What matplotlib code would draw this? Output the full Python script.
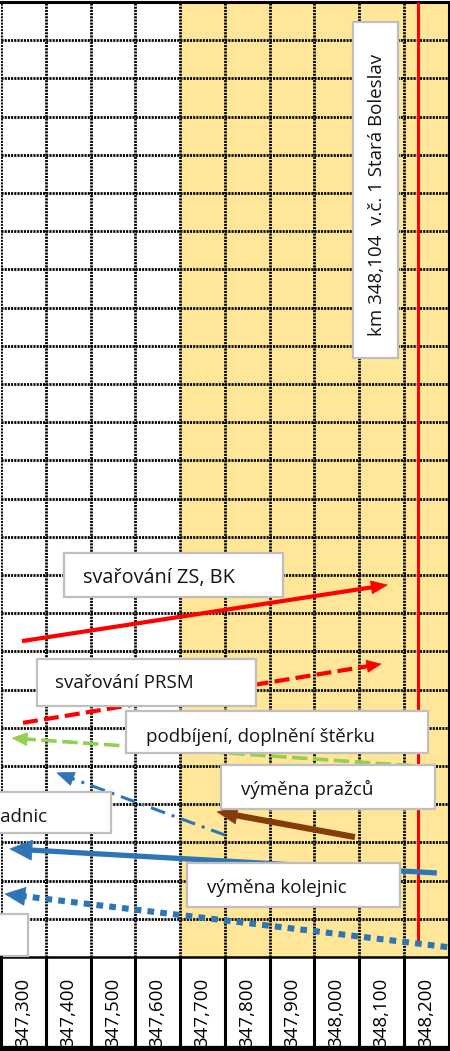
import matplotlib
matplotlib.use('Agg')
import matplotlib.pyplot as plt
from matplotlib.patches import Rectangle, Polygon
from matplotlib.lines import Line2D
import matplotlib.transforms as mtransforms
import numpy as np

plt.rcParams['font.family'] = ['Open Sans', 'DejaVu Sans']

# ---------------- data ----------------
km_labels = ['347,300', '347,400', '347,500', '347,600', '347,700',
             '347,800', '347,900', '348,000', '348,100', '348,200']
col_start = 347.25          # left edge of first column (km)
col_width = 0.1             # km per column
n_rows = 25
highlight_from = 347.65     # shaded (yellow) section start
station_km = 348.182
station_row_end = 24.6
station_label = 'km 348,104  v.č. 1 Stará Boleslav'

# activities: arrows (x in km, y in row units from top)
act_names = ['svařování ZS, BK', 'svařování PRSM', 'podbíjení, doplnění štěrku',
             'výměna pražců', 'výměna podkladnic', 'výměna kolejnic', 'výměna (tečkovaná)']
act_x_start = [347.297, 347.299, 348.215, 348.041, 347.751, 348.224, 348.247]
act_r_start = [16.73, 18.87, 20.03, 21.86, 21.81, 22.80, 24.74]
act_x_end = [348.113, 348.099, 347.275, 347.733, 347.375, 347.270, 347.259]
act_r_end = [15.26, 17.33, 19.27, 21.20, 20.18, 22.17, 23.35]

# ---------------- styles ----------------
act_colors = ['#FF0000', '#FF0000', '#92D050', '#843C0C', '#2E75B6', '#2E75B6', '#2E75B6']
act_lw = [3.0, 3.0, 2.6, 4.4, 2.2, 3.8, 4.4]
act_ls = ['-', (0, (3.6, 1.5)), (0, (4.3, 1.5)), '-', (0, (4.9, 2.3, 1.0, 2.3)), '-', (0, (1.1, 1.0))]
act_head = [(16, 13), (14, 12), (15, 13), (20, 17), (17, 14), (22, 20), (20, 18)]  # length, width px

W, H = 450, 1051
fig = plt.figure(figsize=(W / 100, H / 100), dpi=100)

ax_left, ax_right, ax_top, ax_bot = 1.0, 448.5, 2.0, 957.0
ax = fig.add_axes([ax_left / W, 1 - ax_bot / H, (ax_right - ax_left) / W, (ax_bot - ax_top) / H])
x_min = col_start
x_max = col_start + col_width * len(km_labels)
ax.set_xlim(x_min, x_max)
ax.set_ylim(n_rows, 0)
ax.set_xticks([])
ax.set_yticks([])
for s in ['top', 'right', 'bottom']:
    ax.spines[s].set_color('black')
ax.spines['top'].set_linewidth(2.2)
ax.spines['right'].set_linewidth(2.2)
ax.spines['bottom'].set_linewidth(1.8)
ax.spines['left'].set_visible(False)
ax.set_facecolor('white')

# yellow section
ax.axvspan(highlight_from, x_max, color='#FFE699', zorder=0.5, lw=0)

# grid
grid_kw = dict(color='black', lw=2.0, ls=(0, (0.75, 0.4)), zorder=1)
for r in range(1, n_rows):
    ax.axhline(r, **grid_kw)
for c in range(0, len(km_labels)):
    ax.axvline(col_start + c * col_width, **grid_kw)

# station line
ax.plot([station_km, station_km], [0, station_row_end], color='#FF0000', lw=2.2,
        solid_capstyle='butt', zorder=3)


def draw_arrow(x0, y0, x1, y1, color, lw, ls, hl, hw, z):
    p0 = ax.transData.transform((x0, y0))
    p1 = ax.transData.transform((x1, y1))
    d = p1 - p0
    u = d / np.hypot(*d)
    nrm = np.array([-u[1], u[0]])
    base = p1 - u * hl
    shaft_end = ax.transData.inverted().transform(base + u * 1.5)
    ax.plot([x0, shaft_end[0]], [y0, shaft_end[1]], color=color, lw=lw, ls=ls,
            solid_capstyle='butt', dash_capstyle='butt', zorder=z)
    tri = np.array([p1, base + nrm * hw / 2, base - nrm * hw / 2])
    ax.add_patch(Polygon(tri, closed=True, transform=mtransforms.IdentityTransform(),
                         facecolor=color, edgecolor=color, lw=0.5, zorder=z, clip_on=False))


for i in range(len(act_names)):
    draw_arrow(act_x_start[i], act_r_start[i], act_x_end[i], act_r_end[i],
               act_colors[i], act_lw[i], act_ls[i], act_head[i][0], act_head[i][1], 3 + i * 0.1)

# ---------------- label boxes (figure pixel layout) ----------------
def fx(px):
    return px / W


def fy(py):
    return 1 - py / H


txt_color = '#141414'
fs = 13.5


def box(x0, y0, x1, y1):
    fig.patches.append(Rectangle((fx(x0), fy(y1)), fx(x1) - fx(x0), fy(y0) - fy(y1),
                                 transform=fig.transFigure, facecolor='white',
                                 edgecolor='#BFBFBF', lw=1.6, zorder=5))


box_layout = [
    (64, 553, 283, 597, 83, 583, 'left', fs + 0.8),
    (37, 659, 256, 706, 55, 688, 'left', fs),
    (126, 711, 428, 753, 146, 742, 'left', fs),
    (221, 765, 435, 809, 241, 795, 'left', fs),
    (187, 863, 400, 907, 207, 893, 'left', fs),
    (-120, 792, 111, 833, 47, 822, 'right', fs),
]
box_texts = [act_names[0], act_names[1], act_names[2], act_names[3], act_names[5], act_names[4]]
for (x0, y0, x1, y1, tx, ty, ha, size), t in zip(box_layout, box_texts):
    box(x0, y0, x1, y1)
    fig.text(fx(tx), fy(ty), t, ha=ha, va='baseline', fontsize=size, color=txt_color, zorder=6)

box(-120, 914, 28, 956)

# station box
box(353, 22, 398, 358)
fig.text(fx(377), fy(195), station_label, rotation=90, ha='center', va='center',
         fontsize=fs, color=txt_color, zorder=6)

# ---------------- bottom table ----------------
bt = mtransforms.blended_transform_factory(ax.transData, fig.transFigure)
tab_top, tab_bot = 957, 1048
for c in range(len(km_labels) + 1):
    xc = col_start + c * col_width
    fig.add_artist(Line2D([xc, xc], [fy(tab_top), fy(tab_bot)], transform=bt,
                          color='black', lw=2.2, zorder=7))
fig.add_artist(Line2D([x_min, x_max], [fy(tab_bot + 1), fy(tab_bot + 1)], transform=bt,
                      color='black', lw=4.5, zorder=7))
for i, lab in enumerate(km_labels):
    fig.text(col_start + (i + 0.5) * col_width, fy(1012), lab, transform=bt, rotation=90,
             ha='center', va='center', fontsize=fs, color='black', zorder=6)

fig.savefig('out.png', dpi=100)
